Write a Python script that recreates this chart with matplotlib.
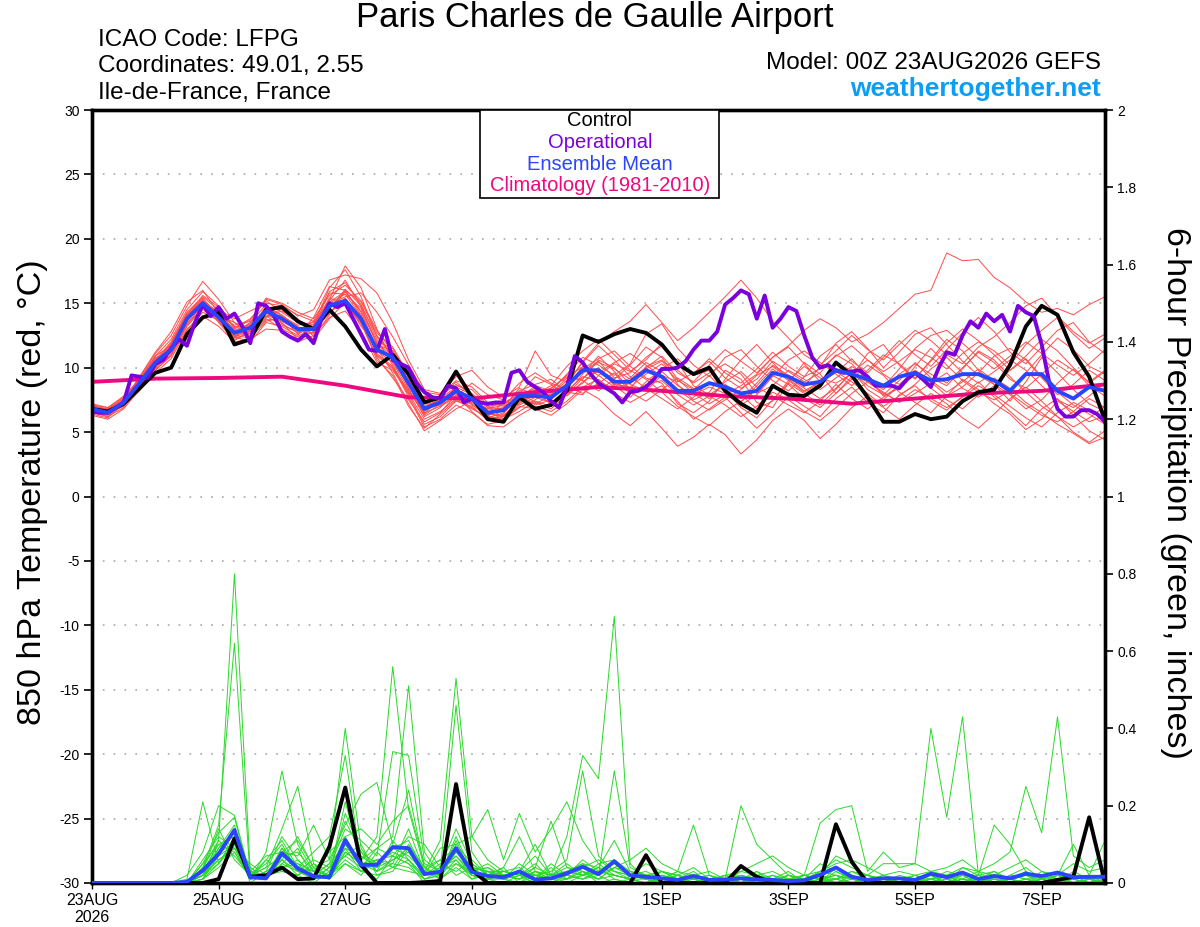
import numpy as np
import matplotlib
matplotlib.use('Agg')
import matplotlib.pyplot as plt
from matplotlib.patches import Rectangle

plt.rcParams['font.family'] = ['Liberation Sans', 'DejaVu Sans']
plt.rcParams['axes.unicode_minus'] = False

# forecast hours from 00Z 23AUG2026 (GEFS 6-hourly, operational 3-hourly, climatology daily)
hours_6h = np.arange(0, 385, 6)
hours_3h = np.arange(0, 385, 3)
hours_clim = np.arange(0, 385, 24)

tick_hours = [0, 48, 96, 144, 216, 264, 312, 360]
tick_labels = ['23AUG\n2026', '25AUG', '27AUG', '29AUG', '1SEP', '3SEP', '5SEP', '7SEP']

# 850 hPa temperature (C)
control_t = [6.8, 6.6, 7.2, 8.4, 9.6, 10.0, 12.6, 13.9, 14.3, 11.8, 12.2, 14.5, 14.7,
             13.6, 13.0, 14.5, 13.2, 11.4, 10.1, 11.0, 9.5, 7.3, 7.7, 9.7, 7.7,
             6.0, 5.8, 7.7, 6.8, 7.1, 8.2, 12.5, 12.0, 12.6, 13.0, 12.7, 11.8, 10.3,
             9.5, 10.0, 8.2, 7.2, 6.5, 8.6, 7.9,
             7.8, 8.6, 10.4, 9.4, 7.7, 5.8, 5.8, 6.4, 6.0, 6.2, 7.4, 8.1, 8.3,
             10.2, 13.2, 14.8, 14.1, 11.2, 9.3, 5.9]

ens_mean_t = [6.8, 6.5, 7.3, 8.8, 10.4, 11.4, 13.8, 15.0, 13.9, 12.7, 13.1, 14.4, 13.8,
              13.0, 13.0, 14.8, 15.2, 13.8, 11.4, 10.8, 8.8, 6.8, 7.3, 8.2, 7.6,
              6.5, 6.7, 7.8, 7.8, 7.7, 8.6, 9.8, 9.8, 8.9, 8.9, 9.8, 9.3, 8.2,
              8.2, 8.8, 8.5, 8.0, 8.2, 9.6, 9.3,
              8.7, 8.9, 9.8, 9.5, 9.1, 8.6, 9.3, 9.6, 9.0, 9.1, 9.5, 9.5, 9.0,
              8.2, 9.5, 9.5, 8.2, 7.6, 8.5, 8.2]

operational_t = [6.6, 6.5, 6.5, 6.9, 7.3, 9.4, 9.3, 9.2, 10.3, 10.6, 11.5, 12.2, 11.7,
                 13.5, 14.9, 14.0, 14.7, 13.8, 14.2, 13.2, 11.9, 15.0, 14.8, 14.0, 12.8,
                 12.4, 12.1, 12.6, 11.9, 13.8, 15.0, 14.7, 15.0, 13.8, 12.6, 11.4, 11.3,
                 13.0, 10.6, 10.3, 10.0, 8.8, 8.1, 7.7, 7.6, 8.6, 8.4, 7.3, 7.6,
                 7.3, 7.2, 7.3, 7.3, 9.6, 9.8, 8.9, 8.5, 8.1, 7.4, 6.9, 8.5, 10.9,
                 10.4, 9.5, 8.8, 8.4, 8.0, 7.3, 8.1, 8.2, 8.5, 9.1, 9.9, 9.9, 10.0,
                 10.5, 11.4, 12.1, 12.1, 12.8, 14.9, 15.4, 16.0, 15.7, 13.8, 15.6, 13.1,
                 13.8, 14.7,
                 14.4, 12.5, 10.8, 10.0, 10.2, 9.8, 9.6, 9.7, 9.8, 9.3, 8.6, 8.6, 8.6,
                 8.4, 9.1, 9.6, 9.1, 8.5, 10.0, 11.2, 11.0, 12.5, 13.6, 13.1, 14.2,
                 13.6, 14.1, 12.8, 14.8, 14.3, 14.0, 11.8, 8.7, 6.8, 6.2, 6.2, 6.7,
                 6.7, 6.4, 5.8]

climatology_t = [8.9, 9.15, 9.2, 9.3, 8.6, 7.7, 7.6, 8.1, 8.5, 8.2, 7.8, 7.6, 7.2,
                 7.6, 8.0, 8.2, 8.7]

member_01 = [6.5, 6.4, 7.1, 9.0, 10.9, 12.2, 14.5, 15.9, 14.8, 13.1, 13.8, 15.2, 14.3,
             13.5, 13.1, 15.9, 16.6, 14.9, 12.2, 10.2, 8.0, 6.0, 6.6, 7.6, 6.9, 6.0,
             6.2, 7.4, 8.3, 7.1, 8.0, 9.5, 10.9, 9.7, 8.3, 10.1, 10.6, 8.7, 7.5,
             8.1, 9.8, 9.1, 7.3, 6.9, 8.8, 10.4, 9.5, 8.0, 9.3, 11.1, 11.8, 10.2,
             9.1, 10.6, 12.2, 11.3, 9.8, 8.7, 7.4, 8.9, 10.8, 9.6, 8.3, 7.2, 6.6]
member_02 = [7.0, 6.8, 7.6, 8.5, 10.0, 11.0, 13.2, 14.6, 14.1, 13.5, 12.6, 13.9, 14.6,
             13.8, 12.4, 14.1, 16.0, 15.1, 12.7, 11.6, 9.5, 7.4, 7.0, 8.6, 8.3, 7.1,
             6.0, 6.9, 7.5, 8.4, 9.3, 9.0, 8.2, 9.1, 10.2, 11.6, 10.8, 9.1, 8.0,
             7.2, 7.9, 8.6, 9.5, 10.8, 11.6, 10.3, 8.9, 9.6, 10.7, 9.3, 7.8, 8.4,
             10.1, 11.5, 10.2, 9.0, 8.1, 7.5, 8.2, 9.6, 11.0, 12.3, 11.4, 10.1, 9.5]
member_03 = [6.9, 6.6, 7.2, 8.6, 9.9, 11.6, 14.0, 15.2, 13.5, 12.1, 12.9, 14.8, 14.0,
             12.6, 13.4, 15.3, 17.9, 16.2, 13.0, 10.5, 8.6, 6.4, 7.7, 8.9, 7.8, 6.3,
             5.8, 7.2, 8.0, 7.6, 8.8, 10.4, 11.7, 10.6, 9.3, 8.4, 7.6, 6.8, 7.7,
             8.9, 8.2, 6.9, 6.1, 7.5, 8.8, 8.0, 7.1, 8.3, 9.7, 8.6, 7.9, 9.0,
             10.4, 9.2, 8.6, 9.9, 11.3, 10.6, 9.3, 8.1, 7.0, 6.2, 5.4, 6.1, 7.0]
member_04 = [6.6, 6.2, 6.9, 8.9, 10.8, 11.1, 13.3, 14.7, 14.4, 12.4, 12.0, 13.5, 13.2,
             12.5, 13.9, 16.3, 16.0, 14.1, 11.0, 9.9, 7.9, 5.6, 6.2, 7.4, 7.0, 5.9,
             6.4, 8.1, 7.3, 6.8, 7.9, 9.2, 10.0, 8.6, 7.7, 8.9, 9.9, 10.7, 9.4,
             9.8, 8.3, 7.6, 8.8, 10.2, 9.4, 8.5, 10.1, 11.9, 12.8, 11.5, 10.0, 11.2,
             12.6, 13.1, 11.8, 10.5, 9.4, 8.7, 7.9, 6.8, 7.5, 8.8, 9.9, 8.6, 7.8]
member_05 = [6.4, 6.1, 7.4, 9.3, 11.2, 12.8, 15.1, 16.0, 14.2, 12.9, 13.4, 14.5, 13.5,
             12.2, 12.8, 14.6, 15.9, 14.3, 11.5, 9.6, 7.2, 5.1, 5.9, 6.8, 7.4, 6.8,
             7.1, 8.2, 8.7, 9.1, 8.1, 7.9, 9.4, 10.3, 9.7, 10.6, 11.9, 10.4, 8.6,
             7.9, 8.7, 7.9, 6.8, 7.4, 9.0, 10.1, 9.2, 8.8, 9.5, 8.9, 8.1, 7.3,
             8.0, 8.8, 9.6, 8.4, 7.7, 8.6, 9.8, 10.7, 9.3, 8.1, 7.1, 6.4, 5.6]
member_06 = [7.1, 6.9, 7.8, 9.1, 10.3, 11.9, 14.2, 15.4, 14.0, 13.3, 13.6, 14.1, 13.6,
             12.9, 12.6, 14.9, 15.5, 15.8, 14.3, 12.4, 10.2, 8.1, 7.9, 9.0, 8.5, 7.3,
             7.0, 7.6, 8.6, 8.2, 9.5, 10.8, 10.2, 9.4, 10.3, 12.6, 13.4, 11.5, 10.2,
             9.3, 10.8, 11.4, 10.1, 9.0, 8.2, 9.3, 10.9, 11.8, 10.5, 9.6, 10.8, 12.1,
             11.0, 10.1, 11.4, 12.7, 13.9, 12.8, 11.2, 10.3, 11.6, 12.9, 13.5, 12.0, 11.1]
member_07 = [6.7, 6.5, 7.0, 8.2, 9.6, 10.7, 12.9, 14.3, 13.7, 12.5, 12.3, 13.6, 13.9,
             13.2, 12.2, 13.8, 15.1, 13.6, 10.8, 9.2, 7.5, 5.8, 6.5, 7.9, 6.6, 5.5,
             5.4, 6.3, 7.0, 6.6, 7.4, 8.5, 9.1, 8.0, 7.3, 8.0, 8.6, 7.4, 6.0,
             6.8, 7.7, 6.5, 5.3, 6.4, 7.8, 7.0, 6.2, 7.6, 8.5, 7.3, 6.5, 7.9,
             8.6, 7.4, 6.7, 7.8, 8.9, 7.7, 6.6, 5.5, 6.8, 7.6, 6.3, 5.1, 4.4]
member_08 = [6.8, 6.6, 7.3, 8.7, 10.6, 12.0, 14.3, 15.5, 14.5, 13.8, 14.4, 15.0, 14.8,
             14.1, 13.6, 14.9, 15.3, 13.2, 11.8, 11.3, 9.4, 7.2, 7.1, 7.8, 8.8, 7.9,
             7.5, 8.8, 9.6, 8.8, 8.3, 9.9, 10.7, 11.3, 10.1, 9.2, 8.8, 7.2, 6.5,
             7.4, 9.1, 10.6, 11.8, 10.4, 9.1, 8.2, 8.9, 10.3, 9.8, 8.3, 7.5, 8.6,
             9.7, 8.9, 7.8, 8.5, 9.6, 10.9, 11.5, 10.6, 9.2, 7.9, 8.7, 9.8, 9.0]
member_09 = [6.6, 6.4, 7.5, 9.2, 11.1, 12.5, 14.8, 16.7, 15.3, 13.5, 13.0, 14.6, 14.5,
             13.6, 13.3, 16.2, 17.6, 15.5, 12.4, 10.9, 8.4, 6.2, 6.9, 8.1, 7.2, 6.1,
             6.5, 7.7, 8.1, 7.9, 9.0, 9.6, 10.4, 9.9, 9.1, 10.0, 10.9, 9.6, 8.9,
             10.2, 11.4, 10.5, 9.6, 10.8, 11.7, 12.9, 13.8, 13.1, 12.0, 12.6, 13.5, 14.6,
             15.7, 16.0, 18.9, 18.3, 18.4, 17.0, 16.2, 15.1, 14.3, 14.6, 14.1, 14.9, 15.5]
member_10 = [7.2, 6.9, 7.7, 8.4, 9.8, 10.9, 13.0, 14.0, 13.2, 12.0, 12.2, 13.0, 12.9,
             12.0, 12.5, 13.9, 14.4, 12.8, 10.4, 9.8, 8.1, 6.6, 7.4, 8.4, 7.5, 6.7,
             6.9, 8.4, 7.9, 8.6, 10.1, 11.3, 12.2, 11.0, 9.8, 9.1, 8.1, 7.0, 6.2,
             5.5, 6.6, 7.4, 8.3, 9.4, 8.7, 7.6, 6.9, 8.0, 9.1, 10.2, 9.4, 8.1,
             7.3, 6.5, 7.8, 9.1, 8.3, 7.2, 6.4, 5.2, 6.0, 7.4, 6.6, 5.8, 6.3]
member_11 = [6.5, 6.3, 7.2, 8.6, 10.2, 11.3, 13.6, 14.9, 14.4, 12.8, 13.3, 14.3, 13.4,
             12.7, 13.0, 15.2, 16.8, 14.7, 11.8, 10.7, 8.8, 6.9, 7.6, 8.5, 7.9, 6.9,
             6.8, 7.4, 7.8, 8.1, 8.7, 10.5, 11.9, 12.8, 13.6, 14.9, 13.5, 12.1, 13.1,
             14.3, 15.5, 16.8, 15.4, 13.6, 12.3, 11.0, 10.2, 11.3, 12.5, 11.4, 10.6, 11.8,
             12.9, 12.1, 11.0, 10.3, 11.6, 12.4, 13.5, 14.8, 15.4, 14.0, 12.8, 11.9, 12.6]
member_12 = [6.9, 6.7, 7.3, 8.8, 10.5, 11.6, 13.7, 15.1, 14.0, 12.6, 13.2, 14.7, 14.1,
             13.1, 12.9, 15.0, 15.7, 14.0, 11.1, 10.1, 7.7, 5.4, 6.0, 7.1, 6.5, 5.6,
             5.9, 7.0, 6.8, 6.3, 7.2, 8.3, 7.6, 6.4, 5.5, 6.6, 5.3, 3.9, 4.6,
             5.6, 4.8, 3.3, 4.4, 5.9, 6.8, 5.9, 4.5, 5.6, 6.9, 7.8, 6.9, 6.0,
             7.1, 8.0, 7.2, 6.1, 5.3, 6.4, 7.6, 8.5, 7.4, 6.2, 5.0, 4.2, 5.1]
member_13 = [6.3, 6.0, 6.8, 8.3, 10.1, 11.8, 14.1, 15.3, 13.8, 12.3, 13.5, 15.4, 15.0,
             14.3, 13.8, 15.6, 16.4, 15.2, 12.9, 11.2, 9.0, 7.0, 7.5, 8.3, 7.7, 6.6,
             6.6, 8.0, 9.3, 8.7, 7.8, 8.9, 9.8, 8.7, 8.5, 9.5, 10.3, 9.0, 8.3,
             9.4, 8.1, 7.1, 7.9, 9.3, 10.6, 11.3, 10.4, 9.5, 8.6, 9.8, 11.0, 10.3,
             9.2, 10.5, 11.9, 13.0, 12.1, 11.0, 9.8, 10.9, 12.2, 11.3, 10.0, 8.8, 9.7]
member_14 = [7.0, 6.8, 7.5, 9.0, 10.7, 11.5, 13.9, 14.8, 13.6, 12.2, 12.7, 13.8, 13.0,
             12.4, 13.2, 15.4, 15.0, 13.5, 10.6, 9.4, 7.0, 5.3, 6.4, 7.5, 6.8, 6.2,
             7.3, 7.9, 7.1, 7.5, 8.6, 8.0, 8.8, 9.6, 8.1, 7.4, 8.3, 9.2, 8.4,
             7.6, 8.9, 9.7, 8.5, 7.8, 7.1, 6.5, 7.4, 8.7, 7.6, 6.8, 7.7, 8.6,
             9.5, 8.4, 7.5, 6.8, 7.9, 9.2, 8.4, 7.3, 6.5, 5.6, 4.9, 4.1, 4.6]
member_15 = [6.7, 6.5, 7.4, 8.9, 10.5, 11.9, 14.1, 15.6, 14.7, 13.0, 13.7, 15.3, 14.9,
             14.0, 14.5, 16.8, 17.2, 16.9, 15.8, 13.5, 10.6, 8.3, 8.0, 9.3, 9.8, 8.5,
             7.7, 8.5, 11.3, 9.4, 8.9, 9.7, 10.5, 9.2, 9.6, 10.8, 11.7, 10.3, 9.5,
             10.7, 9.6, 8.8, 9.9, 11.2, 10.1, 9.3, 9.9, 10.9, 11.7, 10.6, 9.7, 10.5,
             11.4, 10.8, 9.9, 11.1, 12.0, 11.3, 10.2, 11.8, 12.9, 13.9, 12.6, 11.5, 12.3]
member_16 = [6.5, 6.2, 7.1, 8.7, 10.3, 11.2, 13.5, 14.5, 13.6, 12.4, 12.8, 14.0, 13.3,
             12.8, 12.9, 14.2, 15.4, 13.9, 11.3, 10.4, 8.3, 6.3, 7.2, 8.0, 7.1, 6.4,
             6.2, 7.5, 7.2, 7.8, 8.5, 10.1, 9.4, 8.5, 9.2, 10.4, 9.7, 8.6, 7.9,
             8.5, 8.0, 7.3, 8.6, 9.9, 9.0, 8.1, 8.8, 9.7, 8.9, 8.0, 7.0, 7.8,
             8.7, 9.9, 10.8, 9.6, 8.8, 9.7, 10.6, 9.8, 8.6, 7.5, 6.9, 7.8, 8.8]
member_17 = [6.8, 6.4, 7.2, 8.5, 10.0, 11.4, 13.8, 15.0, 14.3, 13.2, 13.0, 14.2, 14.0,
             13.3, 13.5, 15.1, 15.9, 14.4, 11.9, 10.9, 9.0, 7.3, 7.8, 8.7, 8.0, 7.0,
             7.2, 7.8, 8.4, 8.0, 9.2, 9.1, 10.6, 10.0, 8.7, 8.2, 9.4, 8.9, 9.6,
             10.5, 9.2, 8.4, 9.1, 10.5, 9.7, 8.9, 9.6, 11.0, 10.3, 9.0, 8.3, 9.5,
             10.3, 9.5, 8.8, 10.0, 11.2, 10.4, 9.1, 8.4, 9.5, 10.6, 9.8, 8.9, 9.8]
member_18 = [6.6, 6.5, 7.0, 8.4, 9.8, 11.0, 13.4, 14.9, 14.2, 12.9, 12.5, 13.7, 13.8,
             13.0, 12.7, 14.4, 15.0, 13.4, 10.9, 10.0, 8.2, 6.5, 7.0, 7.7, 7.3, 6.2,
             6.0, 6.6, 7.4, 7.0, 8.0, 8.8, 9.9, 9.1, 8.0, 8.7, 9.0, 7.9, 7.1,
             7.8, 7.1, 6.2, 7.0, 8.1, 7.5, 6.6, 5.9, 6.9, 8.0, 8.9, 8.0, 7.4,
             8.3, 7.6, 6.9, 7.7, 8.6, 7.9, 7.0, 6.1, 5.4, 6.5, 7.3, 6.7, 5.9]
member_19 = [7.1, 6.7, 7.6, 9.1, 10.9, 11.7, 14.0, 15.2, 14.3, 12.7, 13.5, 14.9, 13.7,
             12.9, 13.6, 15.8, 15.7, 14.6, 12.0, 11.5, 9.2, 6.8, 7.3, 8.2, 7.5, 6.8,
             7.4, 7.1, 7.7, 7.3, 8.2, 9.3, 9.0, 8.3, 8.8, 9.9, 10.5, 9.8, 8.8,
             9.6, 10.3, 9.5, 8.0, 8.6, 9.8, 9.1, 8.3, 9.2, 10.1, 9.3, 8.5, 9.9,
             11.5, 12.5, 12.9, 11.9, 10.8, 9.9, 10.9, 12.0, 11.1, 10.2, 9.4, 10.3, 11.4]
member_20 = [6.9, 6.6, 7.4, 8.6, 10.4, 11.4, 13.9, 15.1, 14.1, 12.5, 12.9, 14.0, 14.4,
             13.7, 12.8, 14.5, 16.1, 14.8, 12.5, 11.0, 8.7, 6.7, 7.4, 8.0, 7.7, 6.4,
             6.3, 7.3, 8.1, 8.4, 9.4, 10.0, 9.6, 10.4, 11.1, 10.2, 9.3, 8.3, 7.4,
             6.7, 7.5, 8.3, 9.4, 10.1, 9.2, 8.4, 7.6, 8.4, 9.6, 10.6, 9.5, 8.7,
             9.8, 9.0, 8.1, 8.9, 9.9, 9.0, 8.0, 7.1, 6.3, 5.8, 6.6, 7.6, 6.9]

# 6-hour precipitation (inches)
control_p = [0, 0, 0, 0, 0, 0, 0, 0, 0.01, 0.115, 0.016, 0.02, 0.04,
             0.01, 0.012, 0.094, 0.247, 0.047, 0, 0, 0, 0.002, 0.005, 0.256, 0.034, 0,
             0, 0, 0, 0, 0, 0, 0, 0, 0, 0.072, 0, 0, 0,
             0, 0, 0.044, 0.016, 0, 0, 0, 0, 0.152, 0.055, 0, 0, 0,
             0, 0, 0, 0, 0, 0, 0, 0, 0, 0.008, 0.016, 0.17, 0]
ens_mean_p = [0, 0, 0, 0, 0, 0, 0.003, 0.032, 0.075, 0.137, 0.015, 0.012, 0.077,
              0.038, 0.017, 0.015, 0.111, 0.047, 0.047, 0.093, 0.09, 0.023, 0.029, 0.09, 0.029, 0.018,
              0.015, 0.03, 0.009, 0.012, 0.025, 0.042, 0.023, 0.056, 0.02, 0.016, 0.012, 0.008, 0.018,
              0.008, 0.009, 0.012, 0.009, 0.008, 0.005, 0.007, 0.021, 0.04, 0.016, 0.008, 0.012, 0.012,
              0.008, 0.024, 0.015, 0.027, 0.01, 0.018, 0.012, 0.024, 0.018, 0.027, 0.015, 0.016, 0.016]

precip_01 = [0, 0, 0, 0, 0, 0, 0, 0.02, 0.11, 0.80, 0.03, 0.01, 0.06,
             0.02, 0, 0.03, 0.12, 0.04, 0.01, 0.07, 0.05, 0, 0.01, 0.09, 0.02, 0.01,
             0, 0.02, 0, 0, 0.01, 0.03, 0, 0.01, 0, 0, 0, 0.01, 0,
             0, 0, 0, 0, 0, 0, 0, 0.01, 0.02, 0, 0, 0, 0,
             0, 0, 0.01, 0, 0, 0, 0, 0, 0.01, 0, 0, 0, 0]
precip_02 = [0, 0, 0, 0, 0, 0, 0, 0.04, 0.15, 0.62, 0.01, 0.02, 0.09,
             0.03, 0.01, 0.02, 0.18, 0.08, 0.03, 0.11, 0.06, 0.01, 0.02, 0.12, 0.03, 0.04,
             0.01, 0, 0.03, 0.01, 0, 0.02, 0.04, 0.01, 0, 0, 0.02, 0, 0,
             0, 0.01, 0, 0, 0, 0, 0, 0, 0.04, 0.02, 0, 0.01, 0,
             0, 0.01, 0, 0, 0.02, 0, 0, 0, 0, 0.02, 0.01, 0, 0]
precip_03 = [0, 0, 0, 0, 0, 0, 0.01, 0.21, 0.05, 0.12, 0, 0.03, 0.12,
             0.06, 0.02, 0.01, 0.09, 0.03, 0.06, 0.05, 0.14, 0.03, 0.01, 0.04, 0.01, 0.02,
             0.04, 0, 0.01, 0, 0.02, 0.01, 0.02, 0.06, 0.01, 0.01, 0, 0.01, 0.03,
             0, 0, 0.02, 0.01, 0, 0, 0.01, 0, 0, 0, 0.01, 0, 0,
             0, 0, 0, 0.02, 0, 0, 0.01, 0.03, 0, 0, 0, 0.01, 0.02]
precip_04 = [0, 0, 0, 0, 0, 0, 0.02, 0.08, 0.20, 0.175, 0.02, 0.01, 0.05,
             0.09, 0.01, 0.04, 0.07, 0.10, 0.02, 0.03, 0.09, 0.02, 0.04, 0.06, 0.01, 0.03,
             0.01, 0.05, 0.02, 0.01, 0.03, 0.05, 0.02, 0, 0.01, 0.02, 0, 0, 0.02,
             0, 0, 0.01, 0, 0.01, 0.03, 0, 0.02, 0.07, 0.05, 0, 0.01, 0,
             0.01, 0.02, 0, 0.01, 0.03, 0, 0.02, 0.04, 0.01, 0, 0.03, 0.01, 0.01]
precip_05 = [0, 0, 0, 0, 0, 0, 0, 0.06, 0.12, 0.09, 0.01, 0.08, 0.29,
             0.10, 0.03, 0.02, 0.05, 0.02, 0.08, 0.04, 0.03, 0.02, 0.05, 0.03, 0.06, 0.02,
             0.01, 0.03, 0.07, 0.02, 0.12, 0.33, 0.27, 0.69, 0.05, 0.01, 0, 0.02, 0,
             0.01, 0, 0, 0.03, 0.01, 0, 0, 0.01, 0.01, 0.03, 0.01, 0, 0,
             0, 0, 0.02, 0, 0, 0.01, 0, 0, 0.02, 0.01, 0, 0, 0]
precip_06 = [0, 0, 0, 0, 0, 0, 0, 0.03, 0.09, 0.13, 0.02, 0.04, 0.14,
             0.25, 0.05, 0.01, 0.08, 0.05, 0.04, 0.09, 0.11, 0.03, 0.06, 0.02, 0.04, 0.03,
             0.02, 0.01, 0.04, 0.16, 0.04, 0.03, 0.01, 0.04, 0.03, 0.02, 0.01, 0.03, 0.01,
             0, 0.02, 0, 0.01, 0, 0.01, 0.02, 0.01, 0.01, 0, 0, 0, 0.02,
             0.01, 0, 0.01, 0, 0, 0.02, 0, 0, 0.03, 0.01, 0, 0, 0.03]
precip_07 = [0, 0, 0, 0, 0, 0, 0, 0.01, 0.07, 0.10, 0.03, 0.02, 0.08,
             0.07, 0.15, 0.06, 0.40, 0.09, 0.03, 0.06, 0.08, 0.02, 0.03, 0.07, 0.02, 0.01,
             0.03, 0.02, 0.01, 0.05, 0.02, 0.06, 0.03, 0.02, 0.01, 0, 0.03, 0.01, 0,
             0.01, 0, 0.01, 0, 0.02, 0.01, 0, 0.03, 0.02, 0.01, 0.02, 0.01, 0,
             0, 0.01, 0, 0.04, 0.02, 0, 0, 0.01, 0, 0.02, 0.01, 0.02, 0]
precip_08 = [0, 0, 0, 0, 0, 0, 0, 0.05, 0.10, 0.08, 0.01, 0.06, 0.11,
             0.04, 0.08, 0.12, 0.33, 0.05, 0.06, 0.04, 0.10, 0.04, 0.02, 0.10, 0.05, 0.02,
             0.01, 0.02, 0.02, 0.01, 0.01, 0.04, 0.02, 0.29, 0.04, 0.02, 0.01, 0, 0.01,
             0, 0.01, 0.02, 0, 0, 0, 0.01, 0, 0, 0.02, 0, 0, 0.01,
             0, 0.02, 0, 0.01, 0.01, 0, 0.01, 0, 0.01, 0, 0.02, 0, 0]
precip_09 = [0, 0, 0, 0, 0, 0, 0, 0.02, 0.05, 0.11, 0.04, 0.01, 0.07,
             0.05, 0.03, 0.02, 0.10, 0.06, 0.12, 0.56, 0.19, 0.04, 0.01, 0.05, 0.03, 0.04,
             0.02, 0.01, 0.02, 0.03, 0.06, 0.29, 0.07, 0.03, 0.02, 0.01, 0, 0.01, 0.02,
             0.01, 0, 0, 0.02, 0.01, 0, 0.02, 0.01, 0, 0, 0.01, 0.02, 0,
             0, 0, 0.01, 0, 0.01, 0, 0.02, 0.01, 0, 0, 0, 0.01, 0.02]
precip_10 = [0, 0, 0, 0, 0, 0, 0, 0.03, 0.14, 0.06, 0.02, 0.05, 0.10,
             0.03, 0.06, 0.04, 0.14, 0.11, 0.07, 0.34, 0.33, 0.06, 0.03, 0.08, 0.04, 0.03,
             0.03, 0.04, 0.01, 0.02, 0.03, 0.02, 0.05, 0.02, 0.01, 0, 0.01, 0.02, 0.01,
             0, 0.01, 0, 0, 0, 0.02, 0.01, 0, 0.01, 0.03, 0.02, 0, 0.01,
             0.01, 0.01, 0.02, 0, 0.01, 0.03, 0, 0, 0.01, 0, 0, 0.01, 0]
precip_11 = [0, 0, 0, 0, 0, 0, 0, 0.01, 0.09, 0.15, 0.01, 0.03, 0.06,
             0.12, 0.04, 0.02, 0.21, 0.06, 0.09, 0.12, 0.51, 0.08, 0.02, 0.11, 0.02, 0.01,
             0.02, 0.03, 0.10, 0.02, 0.04, 0.03, 0.01, 0.04, 0.02, 0.03, 0.01, 0, 0.02,
             0.01, 0, 0.03, 0.02, 0, 0, 0, 0.02, 0.01, 0, 0, 0.01, 0,
             0.02, 0, 0, 0.01, 0, 0.01, 0.01, 0.02, 0, 0.01, 0, 0, 0.01]
precip_12 = [0, 0, 0, 0, 0, 0, 0, 0.02, 0.06, 0.09, 0.05, 0.02, 0.04,
             0.06, 0.02, 0.05, 0.16, 0.08, 0.05, 0.09, 0.07, 0.03, 0.11, 0.53, 0.12, 0.06,
             0.03, 0.02, 0.05, 0.01, 0.02, 0.01, 0.03, 0.05, 0.02, 0.01, 0.02, 0.01, 0,
             0, 0.02, 0.01, 0, 0.01, 0.02, 0, 0, 0.03, 0.01, 0, 0, 0.01,
             0, 0.01, 0, 0, 0.02, 0.01, 0, 0.01, 0.02, 0, 0.01, 0, 0]
precip_13 = [0, 0, 0, 0, 0, 0, 0, 0.04, 0.11, 0.07, 0.02, 0.01, 0.09,
             0.04, 0.03, 0.08, 0.12, 0.14, 0.10, 0.16, 0.20, 0.05, 0.03, 0.46, 0.08, 0.02,
             0.04, 0.12, 0.03, 0.02, 0.05, 0.02, 0.04, 0.03, 0.01, 0.02, 0.01, 0.03, 0.02,
             0.01, 0.01, 0, 0.01, 0.02, 0, 0.01, 0, 0.01, 0.02, 0, 0.01, 0,
             0.01, 0, 0.01, 0.02, 0, 0, 0.01, 0, 0.01, 0.02, 0, 0.01, 0]
precip_14 = [0, 0, 0, 0, 0, 0, 0, 0.02, 0.08, 0.10, 0.03, 0.07, 0.08,
             0.11, 0.04, 0.06, 0.15, 0.23, 0.26, 0.10, 0.24, 0.04, 0.06, 0.09, 0.03, 0.05,
             0.02, 0.03, 0.01, 0.04, 0.01, 0.02, 0.03, 0.06, 0.02, 0.01, 0.03, 0.02, 0.01,
             0.02, 0, 0.01, 0, 0, 0.01, 0.02, 0.01, 0, 0.01, 0.02, 0, 0.01,
             0, 0.01, 0.02, 0.01, 0, 0, 0.02, 0.01, 0, 0.01, 0.01, 0, 0.01]
precip_15 = [0, 0, 0, 0, 0, 0, 0, 0.05, 0.13, 0.17, 0.01, 0.02, 0.03,
             0.02, 0.05, 0.03, 0.07, 0.04, 0.09, 0.07, 0.12, 0.10, 0.04, 0.14, 0.05, 0.02,
             0.03, 0.02, 0.04, 0.02, 0.03, 0.05, 0.04, 0.11, 0.03, 0.02, 0.03, 0.01, 0.02,
             0.03, 0.01, 0, 0.02, 0.01, 0, 0.01, 0.02, 0, 0, 0.01, 0.01, 0,
             0.01, 0, 0.02, 0, 0.01, 0.01, 0, 0.03, 0.01, 0, 0.02, 0.01, 0]
precip_16 = [0, 0, 0, 0, 0, 0, 0, 0.01, 0.04, 0.08, 0.02, 0.04, 0.07,
             0.08, 0.03, 0.02, 0.06, 0.03, 0.05, 0.08, 0.06, 0.02, 0.09, 0.10, 0.12, 0.19,
             0.06, 0.18, 0.08, 0.14, 0.21, 0.11, 0.05, 0.06, 0.03, 0.01, 0.02, 0.01, 0.01,
             0.02, 0, 0.01, 0.03, 0, 0.01, 0, 0.01, 0.02, 0.01, 0, 0.02, 0.01,
             0.01, 0.02, 0, 0.01, 0, 0.02, 0.01, 0, 0, 0.01, 0.02, 0, 0.01]
precip_17 = [0, 0, 0, 0, 0, 0, 0, 0.03, 0.10, 0.12, 0.04, 0.01, 0.05,
             0.03, 0.02, 0.01, 0.08, 0.05, 0.03, 0.05, 0.04, 0.01, 0.02, 0.06, 0.02, 0.01,
             0.02, 0.01, 0.03, 0.02, 0.01, 0.03, 0.02, 0.04, 0.06, 0.09, 0.05, 0.03, 0.15,
             0.02, 0.01, 0.20, 0.10, 0.06, 0.02, 0.01, 0.05, 0.03, 0.01, 0.02, 0.01, 0.01,
             0.02, 0.01, 0.03, 0.02, 0.02, 0.15, 0.10, 0.03, 0.01, 0.02, 0.10, 0.02, 0.11]
precip_18 = [0, 0, 0, 0, 0, 0, 0, 0.02, 0.07, 0.14, 0.01, 0.03, 0.04,
             0.05, 0.01, 0.04, 0.09, 0.07, 0.04, 0.06, 0.09, 0.03, 0.02, 0.08, 0.04, 0.03,
             0.01, 0.03, 0.02, 0.01, 0.02, 0.04, 0.06, 0.03, 0.02, 0.05, 0.03, 0.02, 0.04,
             0.01, 0.02, 0.03, 0.05, 0.07, 0.04, 0.02, 0.155, 0.19, 0.20, 0.03, 0.08, 0.04,
             0.05, 0.03, 0.02, 0.04, 0.03, 0.02, 0.04, 0.06, 0.03, 0.02, 0.05, 0.03, 0.04]
precip_19 = [0, 0, 0, 0, 0, 0, 0, 0.01, 0.05, 0.10, 0.02, 0.06, 0.03,
             0.02, 0.04, 0.01, 0.05, 0.03, 0.02, 0.04, 0.06, 0.01, 0.03, 0.05, 0.02, 0.01,
             0.01, 0, 0.02, 0.01, 0.03, 0.02, 0.01, 0.02, 0.01, 0, 0.01, 0.02, 0.01,
             0, 0.01, 0, 0.02, 0.03, 0.01, 0.02, 0.03, 0.06, 0.04, 0.02, 0.05, 0.05,
             0.05, 0.40, 0.17, 0.43, 0.02, 0.03, 0.01, 0.02, 0.01, 0.03, 0.02, 0.01, 0.02]
precip_20 = [0, 0, 0, 0, 0, 0, 0, 0.02, 0.06, 0.09, 0.03, 0.02, 0.06,
             0.03, 0.02, 0.05, 0.10, 0.04, 0.06, 0.07, 0.05, 0.02, 0.04, 0.07, 0.03, 0.02,
             0.02, 0.01, 0.03, 0.01, 0.02, 0.01, 0.03, 0.02, 0.01, 0.02, 0.01, 0.01, 0.02,
             0.01, 0.01, 0.02, 0.01, 0, 0.02, 0.01, 0.03, 0.05, 0.06, 0.04, 0.02, 0.03,
             0.02, 0.03, 0.04, 0.06, 0.03, 0.05, 0.08, 0.25, 0.13, 0.43, 0.07, 0.04, 0.06]

temp_members = [member_01, member_02, member_03, member_04, member_05, member_06, member_07,
                member_08, member_09, member_10, member_11, member_12, member_13, member_14,
                member_15, member_16, member_17, member_18, member_19, member_20]
precip_members = [precip_01, precip_02, precip_03, precip_04, precip_05, precip_06, precip_07,
                  precip_08, precip_09, precip_10, precip_11, precip_12, precip_13, precip_14,
                  precip_15, precip_16, precip_17, precip_18, precip_19, precip_20]

red = '#ff4a4a'
green = '#2ad82a'
purple = '#7a00dc'
blue = '#2a45ff'
pink = '#f0087f'

fig = plt.figure(figsize=(12, 9.27), dpi=100)
ax = fig.add_axes([92 / 1200, 44 / 927, 1013 / 1200, 773 / 927])

for m in temp_members:
    ax.plot(hours_6h, m, color=red, lw=0.7, zorder=2)
ax.plot(hours_clim, climatology_t, color=pink, lw=2.8, zorder=3)
ax.plot(hours_6h, control_t, color='black', lw=2.8, zorder=4)
ax.plot(hours_3h, operational_t, color=purple, lw=2.8, zorder=5)
ax.plot(hours_6h, ens_mean_t, color=blue, lw=2.8, zorder=6)

ax.set_xlim(0, 384)
ax.set_ylim(-30, 30)
ax.set_yticks(range(-30, 31, 5))
ax.set_xticks(tick_hours)
ax.set_xticklabels(tick_labels, fontsize=11.5, linespacing=1.2)
ax.tick_params(axis='y', labelsize=10, length=6, width=1.2, direction='out', pad=3)
ax.tick_params(axis='x', length=4, width=1, direction='out', pad=3)
ax.grid(axis='y', color='#a8a8a8', lw=1.2, ls=(0, (1, 5.5)))
ax.set_axisbelow(True)

# precipitation on the right axis
ax2 = ax.twinx()
for p in precip_members:
    ax2.plot(hours_6h, p, color=green, lw=0.7, zorder=2)
ax2.plot(hours_6h, control_p, color='black', lw=2.8, zorder=4)
ax2.plot(hours_6h, ens_mean_p, color=blue, lw=2.8, zorder=6)
ax2.set_ylim(0, 2)
p_ticks = np.arange(0, 2.01, 0.2)
ax2.set_yticks(p_ticks)
ax2.set_yticklabels([f'{v:g}' for v in p_ticks])
ax2.tick_params(axis='y', labelsize=10, length=6, width=1.2, direction='out', pad=3)

for a in (ax, ax2):
    for s in a.spines.values():
        s.set_linewidth(2.4)

fig.text(33 / 1200, 1 - 492 / 927, '850 hPa Temperature (red, °C)', rotation=90,
         ha='center', va='center', fontsize=24.5)
fig.text(1175 / 1200, 1 - 493 / 927, '6-hour Precipitation (green, inches)', rotation=-90,
         ha='center', va='center', fontsize=24.5)

# header
fig.text(595 / 1200, 1 - 18 / 927, 'Paris Charles de Gaulle Airport', ha='center', va='center',
         fontsize=25)
fig.text(98 / 1200, 1 - 40 / 927, 'ICAO Code: LFPG', ha='left', va='center', fontsize=17.5)
fig.text(98 / 1200, 1 - 66 / 927, 'Coordinates: 49.01, 2.55', ha='left', va='center', fontsize=17.5)
fig.text(98 / 1200, 1 - 93 / 927, 'Ile-de-France, France', ha='left', va='center', fontsize=17.5)
fig.text(1101 / 1200, 1 - 63 / 927, 'Model: 00Z 23AUG2026 GEFS', ha='right', va='center',
         fontsize=17.5)
fig.text(1101 / 1200, 1 - 89 / 927, 'weathertogether.net', ha='right', va='center',
         fontsize=19, fontweight='bold', color='#0a9ff5')

# legend box
fig.patches.append(Rectangle((480 / 1200, 1 - 198 / 927), 239 / 1200, 88 / 927,
                             transform=fig.transFigure, facecolor='white', edgecolor='black',
                             lw=1.2, zorder=10))
legend_items = [('Control', 'black'), ('Operational', purple),
                ('Ensemble Mean', blue), ('Climatology (1981-2010)', pink)]
for k, (txt, col) in enumerate(legend_items):
    fig.text(600 / 1200, 1 - (121 + 21.5 * k) / 927, txt, ha='center', va='center',
             fontsize=14.5, color=col, zorder=11)

fig.savefig('out.png', dpi=100)
